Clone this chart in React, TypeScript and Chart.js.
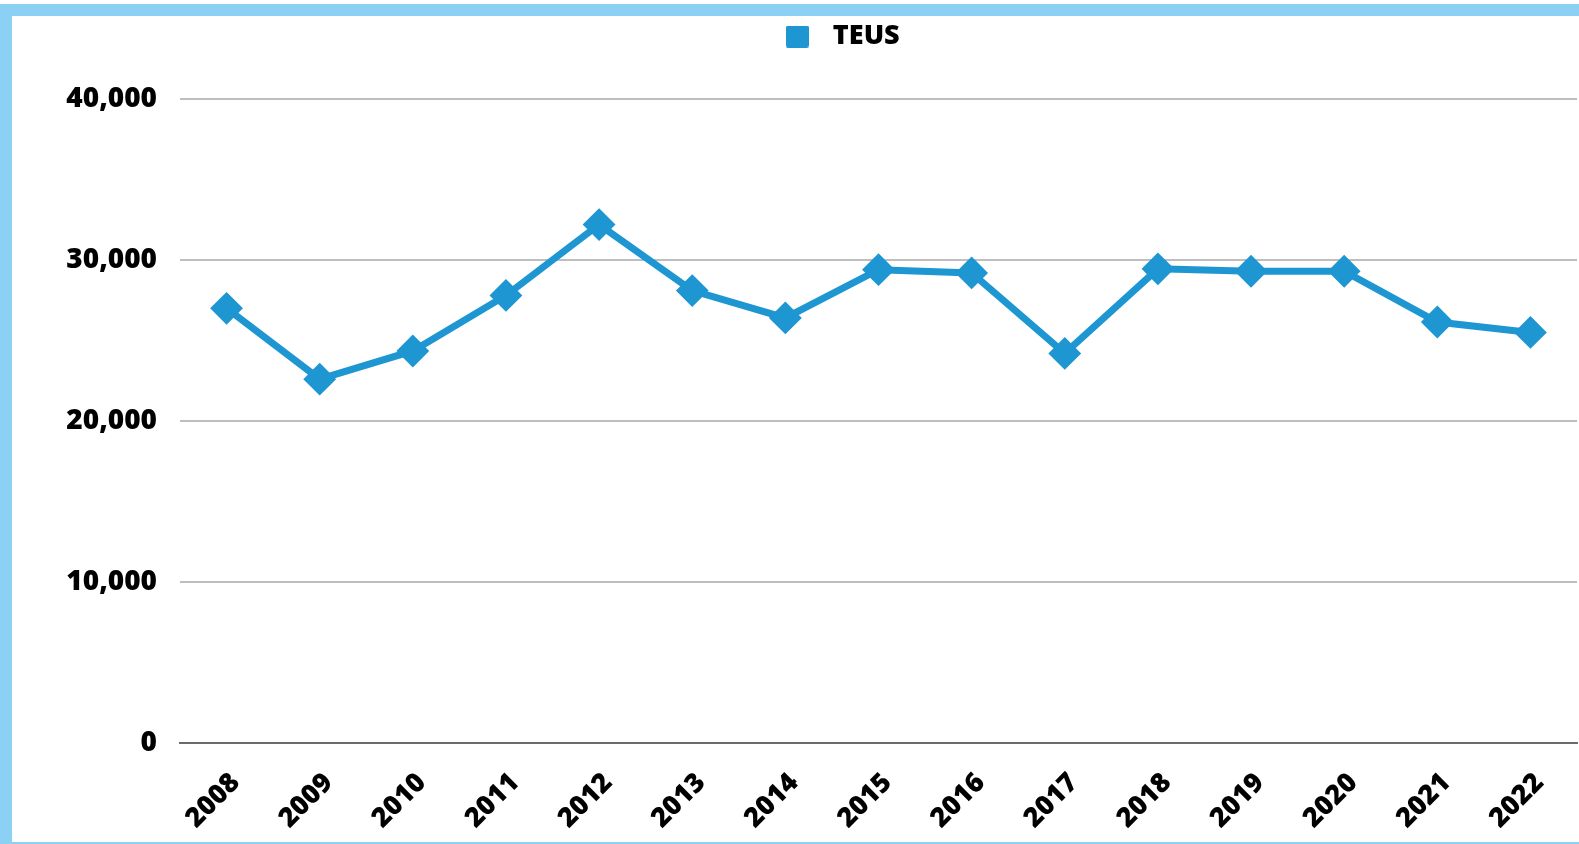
import React, { useEffect, useRef } from 'react';
import { Chart, registerables } from 'chart.js';

Chart.register(...registerables);

const years = ['2008', '2009', '2010', '2011', '2012', '2013', '2014', '2015', '2016', '2017', '2018', '2019', '2020', '2021', '2022'];
const teus = [27000, 22600, 24350, 27800, 32200, 28100, 26400, 29400, 29200, 24200, 29450, 29300, 29300, 26150, 25500];
const yMin = 0;
const yMax = 40000;
const yStep = 10000;
const seriesName = 'TEUS';

const LINE_COLOR = '#1E96D2';
const GRID_COLOR = '#BEBEBE';
const AXIS_COLOR = '#6B6B6B';
const FRAME_COLOR = '#8CD0F3';
const FONT = "'Open Sans', 'Noto Sans', sans-serif";

const CANVAS_W = 1567;
const CANVAS_H = 826;
const LEGEND_H = 83;
const LEGEND_SHIFT = 43;

const legendLayout = {
  id: 'legendLayout',
  beforeLayout(chart: any) {
    const lg = chart.legend;
    if (lg && !lg.__patched) {
      const orig = lg.fit.bind(lg);
      lg.fit = function () {
        orig();
        this.height = LEGEND_H;
      };
      lg.__patched = true;
    }
  },
  afterLayout(chart: any) {
    const lg = chart.legend;
    if (lg) {
      lg.left += LEGEND_SHIFT;
      lg.right += LEGEND_SHIFT;
    }
  },
};

export default function App() {
  const ref = useRef<HTMLCanvasElement | null>(null);

  useEffect(() => {
    if (!ref.current) return;
    const box = document.createElement('canvas');
    box.width = 23;
    box.height = 22;
    const bctx = box.getContext('2d')!;
    bctx.fillStyle = LINE_COLOR;
    bctx.beginPath();
    (bctx as any).roundRect ? (bctx as any).roundRect(0, 0, 23, 22, 2) : bctx.rect(0, 0, 23, 22);
    bctx.fill();

    const chart = new Chart(ref.current, {
      type: 'line',
      data: {
        labels: years,
        datasets: [
          {
            label: seriesName,
            data: teus,
            borderColor: LINE_COLOR,
            backgroundColor: LINE_COLOR,
            borderWidth: 7,
            pointStyle: 'rectRot',
            pointRadius: 15,
            pointHoverRadius: 15,
            pointBorderWidth: 2,
            pointBackgroundColor: LINE_COLOR,
            pointBorderColor: LINE_COLOR,
            tension: 0,
            fill: false,
          },
        ],
      },
      options: {
        responsive: false,
        animation: false,
        devicePixelRatio: 1,
        layout: { autoPadding: false, padding: { top: 0, right: 2, bottom: 0, left: 0 } },
        plugins: {
          tooltip: { enabled: false },
          legend: {
            display: true,
            position: 'top',
            labels: {
              usePointStyle: true,
              pointStyle: box as any,
              pointStyleWidth: 44,
              padding: 7,
              color: '#000',
              font: { family: FONT, size: 27, weight: 800 as any },
            },
          },
        },
        scales: {
          x: {
            type: 'category',
            offset: true,
            grid: { display: false, drawTicks: false },
            border: { display: true, color: AXIS_COLOR, width: 2 },
            ticks: {
              autoSkip: false,
              minRotation: 45,
              maxRotation: 45,
              padding: 24,
              labelOffset: 9,
              color: '#000',
              font: { family: FONT, size: 27, weight: 800 as any },
            },
            afterFit: (s: any) => {
              s.height = 99;
              s.paddingLeft = 0;
              s.paddingRight = 0;
            },
          },
          y: {
            min: yMin,
            max: yMax,
            grid: {
              color: (c: any) => (c.tick && c.tick.value === 0 ? AXIS_COLOR : GRID_COLOR),
              lineWidth: 2,
              drawTicks: false,
            },
            border: { display: false },
            ticks: {
              stepSize: yStep,
              padding: 23,
              color: '#000',
              font: { family: FONT, size: 28, weight: 800 as any },
              callback: (v: any) => Number(v).toLocaleString('en-US'),
            },
            afterFit: (s: any) => {
              s.width = 168;
            },
          },
        },
      },
      plugins: [legendLayout],
    });
    return () => chart.destroy();
  }, []);

  return (
    <div style={{ position: 'fixed', inset: 0, overflow: 'hidden', background: '#fff' }}>
      <div
        style={{
          position: 'absolute',
          left: 0,
          top: 4,
          width: CANVAS_W,
          height: CANVAS_H,
          border: `12px solid ${FRAME_COLOR}`,
          background: '#fff',
        }}
      >
        <canvas ref={ref} width={CANVAS_W} height={CANVAS_H} style={{ display: 'block', width: CANVAS_W, height: CANVAS_H }} />
      </div>
    </div>
  );
}
